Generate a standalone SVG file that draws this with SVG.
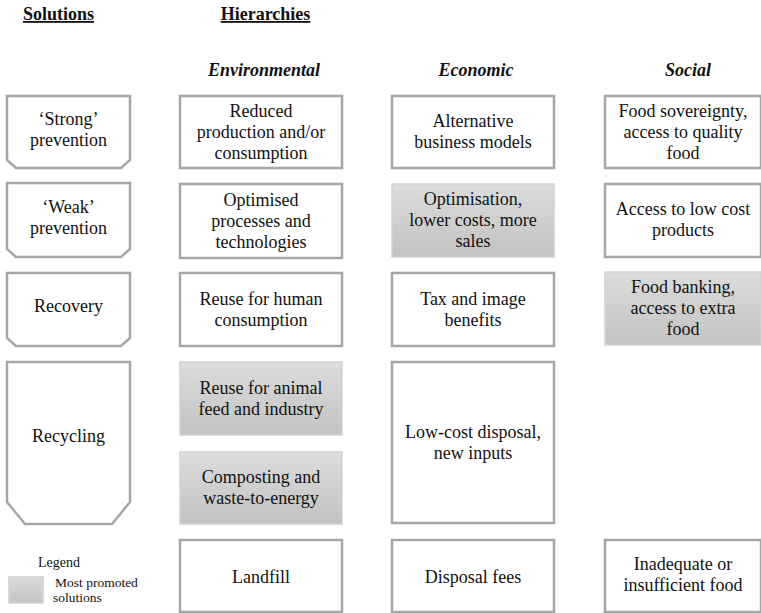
<svg xmlns="http://www.w3.org/2000/svg" width="761" height="613" viewBox="0 0 761 613">
<defs>
<linearGradient id="g" x1="0" y1="0" x2="0" y2="1">
<stop offset="0" stop-color="#dcdcdc"/>
<stop offset="1" stop-color="#c2c2c2"/>
</linearGradient>
<style>
.b{fill:#fff;stroke:#a6a6a6;stroke-width:2.5}
.s{fill:url(#g);stroke:#d2d2d2;stroke-width:1.5}
text{font-family:"Liberation Serif","Times New Roman","DejaVu Serif",serif;fill:#111}
.t{font-size:18px;text-anchor:middle}
.h{font-size:18px;font-weight:bold;text-anchor:middle;text-decoration:underline}
.c{font-size:18px;font-weight:bold;font-style:italic;text-anchor:middle}
.l{font-size:13.5px}
</style>
</defs>
<g id="headers">
<text class="h" x="58.5" y="20">Solutions</text>
<text class="h" x="265.5" y="20">Hierarchies</text>
<text class="c" x="264" y="76">Environmental</text>
<text class="c" x="476" y="76">Economic</text>
<text class="c" x="688" y="76">Social</text>
</g>
<g id="connectors"></g>
<g id="sol-strong">
<polygon class="b" points="7,96 130,96 130,160 121,168 16,168 7,160"/>
<text class="t" x="68.5" y="125">‘Strong’</text>
<text class="t" x="68.5" y="146">prevention</text>
</g>
<g id="sol-weak">
<polygon class="b" points="7,183 130,183 130,249 121,257 16,257 7,249"/>
<text class="t" x="68.5" y="213">‘Weak’</text>
<text class="t" x="68.5" y="234">prevention</text>
</g>
<g id="sol-recovery">
<polygon class="b" points="7,273 130,273 130,338 121,346 16,346 7,338"/>
<text class="t" x="68.5" y="312">Recovery</text>
</g>
<g id="sol-recycling">
<polygon class="b" points="7,362 130,362 130,502 112,524 25,524 7,502"/>
<text class="t" x="68.5" y="442">Recycling</text>
</g>
<g id="env-1">
<rect class="b" x="180" y="96" width="162" height="72"/>
<text class="t" x="261" y="116.5">Reduced</text>
<text class="t" x="261" y="137.5">production and/or</text>
<text class="t" x="261" y="158.5">consumption</text>
</g>
<g id="env-2">
<rect class="b" x="180" y="184" width="162" height="74"/>
<text class="t" x="261" y="205.5">Optimised</text>
<text class="t" x="261" y="226.5">processes and</text>
<text class="t" x="261" y="247.5">technologies</text>
</g>
<g id="env-3">
<rect class="b" x="180" y="273" width="162" height="73"/>
<text class="t" x="261" y="305">Reuse for human</text>
<text class="t" x="261" y="326">consumption</text>
</g>
<g id="env-4">
<rect class="s" x="180" y="362" width="162" height="73"/>
<text class="t" x="261" y="394">Reuse for animal</text>
<text class="t" x="261" y="415">feed and industry</text>
</g>
<g id="env-5">
<rect class="s" x="180" y="452" width="162" height="72"/>
<text class="t" x="261" y="482.5">Composting and</text>
<text class="t" x="261" y="503.5">waste-to-energy</text>
</g>
<g id="env-6">
<rect class="b" x="180" y="540" width="162" height="72"/>
<text class="t" x="261" y="582.5">Landfill</text>
</g>
<g id="eco-1">
<rect class="b" x="392" y="96" width="162" height="72"/>
<text class="t" x="473" y="127">Alternative</text>
<text class="t" x="473" y="148">business models</text>
</g>
<g id="eco-2">
<rect class="s" x="392" y="184" width="162" height="73"/>
<text class="t" x="473" y="205">Optimisation,</text>
<text class="t" x="473" y="226">lower costs, more</text>
<text class="t" x="473" y="247">sales</text>
</g>
<g id="eco-3">
<rect class="b" x="392" y="273" width="162" height="73"/>
<text class="t" x="473" y="305">Tax and image</text>
<text class="t" x="473" y="326">benefits</text>
</g>
<g id="eco-4">
<rect class="b" x="392" y="362" width="162" height="161"/>
<text class="t" x="473" y="438">Low-cost disposal,</text>
<text class="t" x="473" y="459">new inputs</text>
</g>
<g id="eco-5">
<rect class="b" x="392" y="540" width="162" height="72"/>
<text class="t" x="473" y="582.5">Disposal fees</text>
</g>
<g id="soc-1">
<rect class="b" x="605" y="96" width="156" height="72"/>
<text class="t" x="683" y="116.5">Food sovereignty,</text>
<text class="t" x="683" y="137.5">access to quality</text>
<text class="t" x="683" y="158.5">food</text>
</g>
<g id="soc-2">
<rect class="b" x="605" y="184" width="156" height="73"/>
<text class="t" x="683" y="215">Access to low cost</text>
<text class="t" x="683" y="236">products</text>
</g>
<g id="soc-3">
<rect class="s" x="605" y="272" width="156" height="73"/>
<text class="t" x="683" y="293">Food banking,</text>
<text class="t" x="683" y="314">access to extra</text>
<text class="t" x="683" y="335">food</text>
</g>
<g id="soc-5">
<rect class="b" x="605" y="540" width="156" height="72"/>
<text class="t" x="683" y="570">Inadequate or</text>
<text class="t" x="683" y="591">insufficient food</text>
</g>
<g id="legend">
<text class="l" x="38" y="567" style="font-size:14px">Legend</text>
<rect class="s" x="9" y="577" width="34" height="26"/>
<text class="l" x="55" y="587">Most promoted</text>
<text class="l" x="53" y="602">solutions</text>
</g>
</svg>
